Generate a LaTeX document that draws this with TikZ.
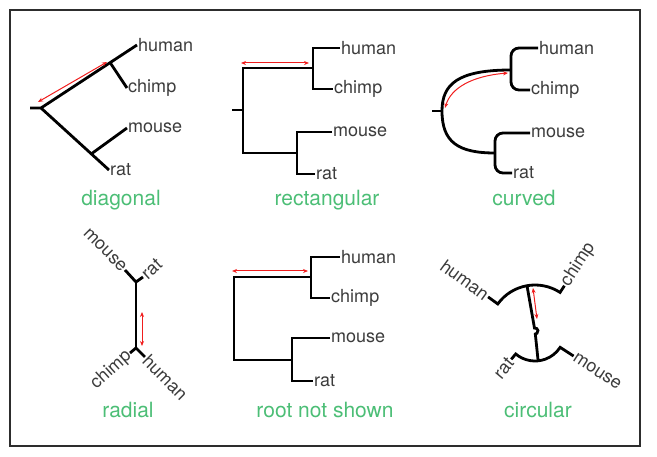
\documentclass[tikz,border=0pt]{standalone}
\usepackage{fontspec}
\setmainfont{TeX Gyre Heros}
\usetikzlibrary{arrows.meta, calc}
\definecolor{TreeGreen}{RGB}{76,190,118}
\definecolor{LeafGray}{RGB}{60,60,60}
\definecolor{FrameGray}{RGB}{45,45,45}
\definecolor{DistRed}{RGB}{240,30,30}

\begin{document}
\begin{tikzpicture}[x=1pt, y=-1pt,
  branch/.style={line width=2.8pt, black},
  dist/.style={{Stealth[length=5pt,width=4pt]}-{Stealth[length=5pt,width=4pt]}, line width=1pt, DistRed},
  leaf/.style={font=\fontsize{18}{20}\selectfont, text=LeafGray, inner sep=1pt},
  caption/.style={font=\fontsize{21}{24}\selectfont, text=TreeGreen, anchor=base}
]
    \useasboundingbox (0,0) rectangle (657,457);
    \draw[FrameGray, line width=1.6pt] (10,10) rectangle (640,446);

    % diagonal
    \coordinate (d-stub) at (30,108);
    \coordinate (d-root) at (41,108);
    \node[leaf, anchor=west] (d-human) at (137,45) {human};
    \node[leaf, anchor=west] (d-chimp) at (127,88) {chimp};
    \node[leaf, anchor=west] (d-mouse) at (127,128) {mouse};
    \node[leaf, anchor=west] (d-rat) at (109,170) {rat};
    \coordinate (d-hc) at ($(d-root)!0.72!(d-human.west)$);
    \coordinate (d-mr) at ($(d-root)!0.74!(d-rat.west)$);
    \draw[branch] (d-stub) -- (d-root) -- (d-human.west);
    \draw[branch] (d-root) -- (d-rat.west);
    \draw[branch] (d-hc) -- (d-chimp.west);
    \draw[branch] (d-mr) -- (d-mouse.west);
    \draw[dist] (38,102) -- (107,62);
    \node[caption] (d-cap) at (121,206) {diagonal};

    % rectangular
    \coordinate (r-stub) at (232,110);
    \coordinate (r-root) at (243,110);
    \coordinate (r-hc) at (313,68);
    \coordinate (r-mr) at (297,153);
    \node[leaf, anchor=west] (r-human) at (340,48) {human};
    \node[leaf, anchor=west] (r-chimp) at (333,89) {chimp};
    \node[leaf, anchor=west] (r-mouse) at (332,132) {mouse};
    \node[leaf, anchor=west] (r-rat) at (315,174) {rat};
    \draw[branch] (r-stub) -- (r-root);
    \draw[branch] (r-hc) -| (r-root) |- (r-mr);
    \draw[branch] (r-human.west) -| (r-hc) |- (r-chimp.west);
    \draw[branch] (r-mouse.west) -| (r-mr) |- (r-rat.west);
    \draw[dist] (241,63) -- (309,63);
    \node[caption] (r-cap) at (327,206) {rectangular};

    % curved
    \coordinate (c-stub) at (432,111);
    \coordinate (c-root) at (442,111);
    \coordinate (c-hc) at (511,70);
    \coordinate (c-mr) at (495,153);
    \node[leaf, anchor=west] (c-human) at (538,48) {human};
    \node[leaf, anchor=west] (c-chimp) at (530,90) {chimp};
    \node[leaf, anchor=west] (c-mouse) at (530,133) {mouse};
    \node[leaf, anchor=west] (c-rat) at (512,173) {rat};
    \draw[branch] (c-stub) -- (c-root);
    \draw[branch] (c-hc) .. controls (458,70) and (442,84) .. (c-root)
      .. controls (442,142) and (458,153) .. (c-mr);
    \draw[branch, rounded corners=8pt] (c-human.west) -| (c-hc) |- (c-chimp.west);
    \draw[branch, rounded corners=8pt] (c-mouse.west) -| (c-mr) |- (c-rat.west);
    \draw[dist] (445,108) .. controls (451,88) and (472,76) .. (508,73);
    \node[caption] (c-cap) at (524,206) {curved};

    % radial
    \coordinate (a-top) at (136,282);
    \coordinate (a-bot) at (136,348);
    \node[leaf, anchor=east, rotate=-45] (a-mouse) at (125,270) {mouse};
    \node[leaf, anchor=west, rotate=42] (a-rat) at (143,277) {rat};
    \node[leaf, anchor=east, rotate=42] (a-chimp) at (130,353) {chimp};
    \node[leaf, anchor=west, rotate=-45] (a-human) at (145,357) {human};
    \draw[branch] (a-top) -- (a-bot);
    \draw[branch] (a-mouse.east) -- (a-top) -- (a-rat.west);
    \draw[branch] (a-chimp.east) -- (a-bot) -- (a-human.west);
    \draw[dist] (142,312) -- (142,346);
    \node[caption] (a-cap) at (128,418) {radial};

    % root not shown
    \coordinate (n-root) at (234,318);
    \coordinate (n-hc) at (311,277);
    \coordinate (n-mr) at (292,360);
    \node[leaf, anchor=west] (n-human) at (340,257) {human};
    \node[leaf, anchor=west] (n-chimp) at (330,298) {chimp};
    \node[leaf, anchor=west] (n-mouse) at (330,338) {mouse};
    \node[leaf, anchor=west] (n-rat) at (313,381) {rat};
    \draw[branch] (n-hc) -| (n-root) |- (n-mr);
    \draw[branch] (n-human.west) -| (n-hc) |- (n-chimp.west);
    \draw[branch] (n-mouse.west) -| (n-mr) |- (n-rat.west);
    \draw[dist] (232,271) -- (308,271);
    \node[caption] (n-cap) at (325,418) {root not shown};

    % circular
    \begin{scope}[shift={(535,331)}, y=1pt]
      \coordinate (o-root) at (0,0);
      \coordinate (o-up) at (100:46);
      \coordinate (o-lo) at (-84:29);
      \node[leaf, anchor=east, rotate=-36] (o-human) at (144:58) {human};
      \node[leaf, anchor=west, rotate=57] (o-chimp) at (57:54) {chimp};
      \node[leaf, anchor=west, rotate=-33] (o-mouse) at (-33:46) {mouse};
      \node[leaf, anchor=east, rotate=50] (o-rat) at (-130:37) {rat};
      \draw[branch] (o-human.east) -- (144:46) arc[start angle=144, end angle=57, radius=46] -- (o-chimp.west);
      \draw[branch] (o-rat.east) -- (-130:30) arc[start angle=-130, end angle=-33, radius=30] -- (o-mouse.west);
      \draw[branch] (o-up) -- (100:3) arc[start angle=100, end angle=-84, radius=3] -- (o-lo);
      \draw[dist] (-2,43) -- (2,12);
    \end{scope}
    \node[caption] (o-cap) at (538,418) {circular};
\end{tikzpicture}
\end{document}
